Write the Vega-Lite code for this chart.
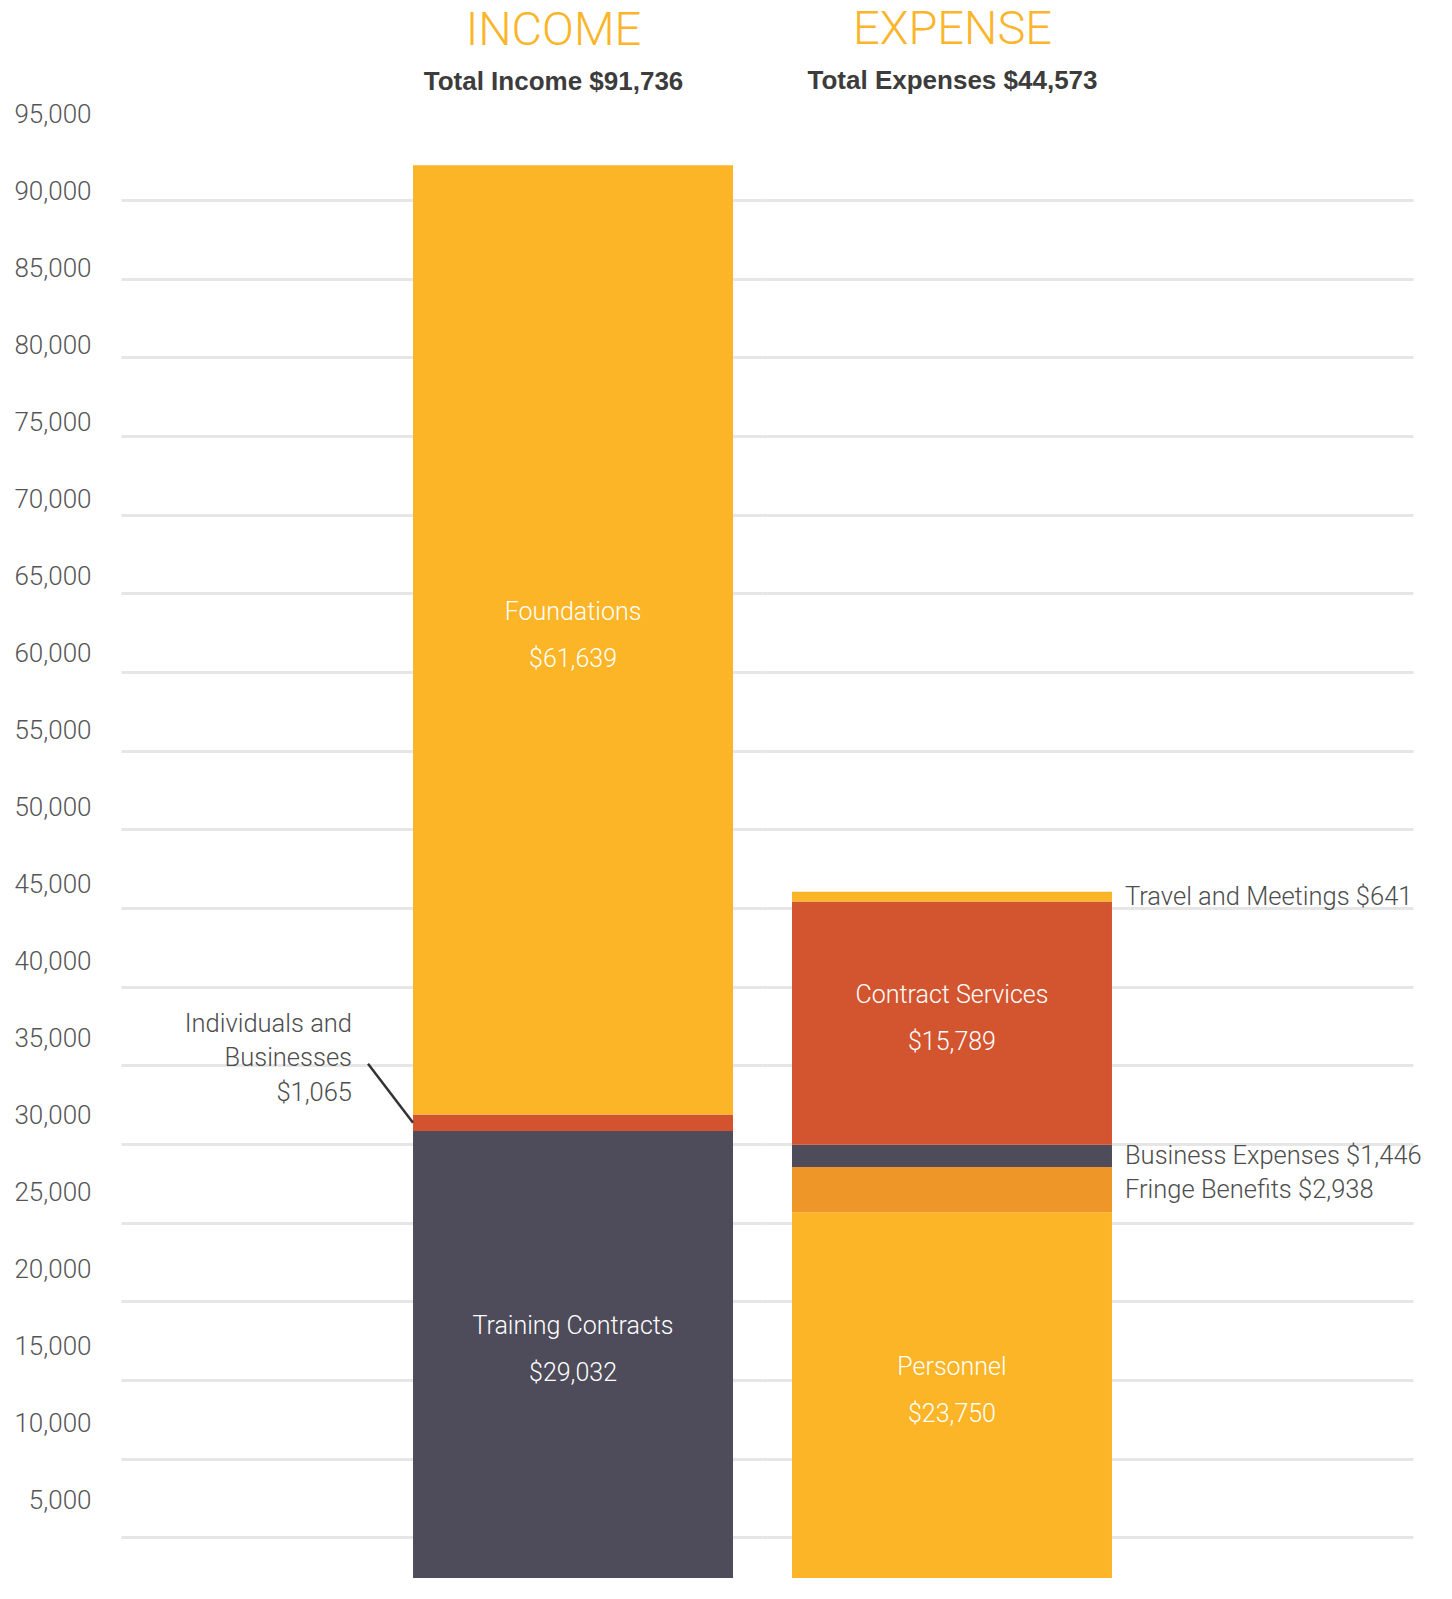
{
  "$schema": "https://vega.github.io/schema/vega-lite/v6.json",
  "autosize": {"type": "pad"},
  "padding": {"left": 13, "top": 6, "right": 0, "bottom": 0},
  "background": "white",
  "bounds": "flush",
  "spacing": 0,
  "config": {"view": {"stroke": null}},
  "resolve": {"scale": {"y": "independent", "color": "independent", "x": "independent"}, "axis": {"y": "independent"}},
  "datasets": {
    "income": [
      {"side": "Income", "segment": "Training Contracts", "amount": 29032},
      {"side": "Income", "segment": "Individuals and\nBusinesses", "amount": 1065},
      {"side": "Income", "segment": "Foundations", "amount": 61639}
    ],
    "expense": [
      {"side": "Expense", "segment": "Personnel", "amount": 23750},
      {"side": "Expense", "segment": "Fringe Benefits", "amount": 2938},
      {"side": "Expense", "segment": "Business Expenses", "amount": 1446},
      {"side": "Expense", "segment": "Contract Services", "amount": 15789},
      {"side": "Expense", "segment": "Travel and Meetings", "amount": 641}
    ]
  },
  "hconcat": [
    {
      "width": 641,
      "height": 1463,
      "data": {"name": "income"},
      "title": {
        "text": "INCOME",
        "subtitle": "Total Income $91,736",
        "anchor": "middle",
        "frame": "group",
        "dx": 112,
        "offset": 5,
        "font": "Roboto",
        "fontWeight": 300,
        "fontSize": 47,
        "color": "#fbb52b",
        "subtitleFont": "Liberation Sans",
        "subtitleFontWeight": "bold",
        "subtitleFontSize": 26,
        "subtitleColor": "#3c3c3c",
        "subtitlePadding": 14
      },
      "transform": [
        {"window": [{"op": "row_number", "as": "idx"}]},
        {"stack": "amount", "groupby": ["side"], "sort": [{"field": "idx", "order": "ascending"}], "as": ["lo", "hi"]},
        {"calculate": "(datum.lo + datum.hi) / 2", "as": "mid"}
      ],
      "encoding": {
        "x": {"field": "side", "type": "nominal", "axis": null, "scale": {"paddingInner": 0, "paddingOuter": 0.5016, "align": 0.9097}}
      },
      "layer": [
        {
          "mark": {"type": "bar"},
          "encoding": {
            "y": {
              "field": "lo", "type": "quantitative",
              "scale": {"domain": [0, 95000], "nice": false, "zero": true},
              "axis": {
                "orient": "left", "title": null, "grid": false, "ticks": false, "tickSize": 0, "domain": false,
                "values": [5000, 10000, 15000, 20000, 25000, 30000, 35000, 40000, 45000, 50000, 55000, 60000, 65000, 70000, 75000, 80000, 85000, 90000, 95000],
                "format": ",d", "labelPadding": 30, "labelFont": "Roboto", "labelFontWeight": 300, "labelFontSize": 26,
                "labelColor": "#555555", "labelFlush": false, "labelOverlap": false, "labelBound": false, "labelOffset": -1
              }
            },
            "y2": {"field": "hi"},
            "color": {
              "field": "segment", "type": "nominal", "legend": null,
              "scale": {"domain": ["Training Contracts", "Individuals and\nBusinesses", "Foundations"], "range": ["#4e4c5a", "#d2532e", "#fcb526"]}
            }
          }
        },
        {
          "transform": [
            {"filter": "datum.amount >= 10000"},
            {"calculate": "datum.segment + '\\n' + format(datum.amount, '$,')", "as": "label"}
          ],
          "mark": {"type": "text", "color": "white", "font": "Roboto", "fontWeight": 300, "fontSize": 25, "lineBreak": "\n", "lineHeight": 47, "baseline": "middle", "align": "center", "dy": -28},
          "encoding": {
            "y": {
              "field": "mid", "type": "quantitative",
              "axis": {
                "orient": "right", "title": null, "grid": true, "labels": false, "ticks": false, "domain": false,
                "values": [2643, 7751, 12859, 17967, 23075, 28183, 33291, 38399, 43507, 48615, 53723, 58831, 63939, 69047, 74155, 79263, 84371, 89479],
                "gridColor": "#e6e6e6", "gridWidth": 3
              }
            },
            "text": {"field": "label"}
          }
        },
        {
          "transform": [
            {"filter": "datum.amount < 10000"},
            {"calculate": "datum.segment + '\\n' + format(datum.amount, '$,')", "as": "label"}
          ],
          "mark": {"type": "text", "color": "#4d4d4d", "font": "Roboto", "fontWeight": 300, "fontSize": 25.5, "lineBreak": "\n", "lineHeight": 34.5, "baseline": "middle", "align": "right", "dx": -61, "dy": -99},
          "encoding": {
            "x": {"field": "side", "type": "nominal", "bandPosition": 0},
            "y": {"field": "mid", "type": "quantitative", "axis": null},
            "text": {"field": "label"}
          }
        },
        {
          "transform": [{"filter": "datum.amount < 10000"}],
          "mark": {"type": "rule", "color": "#333333", "strokeWidth": 2.5, "x2Offset": -45, "y2Offset": -59},
          "encoding": {
            "x": {"field": "side", "type": "nominal", "bandPosition": 0},
            "x2": {"field": "side", "bandPosition": 0},
            "y": {"field": "mid", "type": "quantitative", "axis": null},
            "y2": {"field": "mid"}
          }
        }
      ],
      "resolve": {"axis": {"y": "independent"}}
    },
    {
      "width": 651,
      "height": 1463,
      "data": {"name": "expense"},
      "title": {
        "text": "EXPENSE",
        "subtitle": "Total Expenses $44,573",
        "anchor": "middle",
        "frame": "group",
        "dx": -135,
        "offset": 20,
        "font": "Roboto",
        "fontWeight": 300,
        "fontSize": 47,
        "color": "#fbb52b",
        "subtitleFont": "Liberation Sans",
        "subtitleFontWeight": "bold",
        "subtitleFontSize": 26,
        "subtitleColor": "#3c3c3c",
        "subtitlePadding": 14
      },
      "transform": [
        {"window": [{"op": "row_number", "as": "idx"}]},
        {"stack": "amount", "groupby": ["side"], "sort": [{"field": "idx", "order": "ascending"}], "as": ["lo", "hi"]},
        {"calculate": "(datum.lo + datum.hi) / 2", "as": "mid"}
      ],
      "encoding": {
        "x": {"field": "side", "type": "nominal", "axis": null, "scale": {"paddingInner": 0, "paddingOuter": 0.5172, "align": 0.0906}}
      },
      "layer": [
        {
          "mark": {"type": "bar"},
          "encoding": {
            "y": {
              "field": "lo", "type": "quantitative",
              "scale": {"domain": [0, 95000], "nice": false, "zero": true},
              "axis": {
                "orient": "left", "title": null, "grid": true, "labels": false, "ticks": false, "domain": false,
                "values": [2643, 7751, 12859, 17967, 23075, 28183, 33291, 38399, 43507, 48615, 53723, 58831, 63939, 69047, 74155, 79263, 84371, 89479],
                "gridColor": "#e6e6e6", "gridWidth": 3
              }
            },
            "y2": {"field": "hi"},
            "color": {
              "field": "segment", "type": "nominal", "legend": null,
              "scale": {"domain": ["Personnel", "Fringe Benefits", "Business Expenses", "Contract Services", "Travel and Meetings"], "range": ["#fcb526", "#ef9628", "#4e4c5a", "#d3552f", "#fcb526"]}
            }
          }
        },
        {
          "transform": [
            {"filter": "datum.amount >= 10000"},
            {"calculate": "datum.segment + '\\n' + format(datum.amount, '$,')", "as": "label"}
          ],
          "mark": {"type": "text", "color": "white", "font": "Roboto", "fontWeight": 300, "fontSize": 25, "lineBreak": "\n", "lineHeight": 47, "baseline": "middle", "align": "center", "dy": -28},
          "encoding": {
            "y": {"field": "mid", "type": "quantitative", "axis": null},
            "text": {"field": "label"}
          }
        },
        {
          "transform": [
            {"filter": "datum.amount < 10000"},
            {"calculate": "datum.segment + ' ' + format(datum.amount, '$,')", "as": "label"}
          ],
          "mark": {"type": "text", "color": "#4d4d4d", "font": "Roboto", "fontWeight": 300, "fontSize": 25.5, "baseline": "middle", "align": "left", "dx": 13},
          "encoding": {
            "x": {"field": "side", "type": "nominal", "bandPosition": 1},
            "y": {"field": "mid", "type": "quantitative", "axis": null},
            "text": {"field": "label"}
          }
        }
      ],
      "resolve": {"axis": {"y": "independent"}}
    }
  ]
}
